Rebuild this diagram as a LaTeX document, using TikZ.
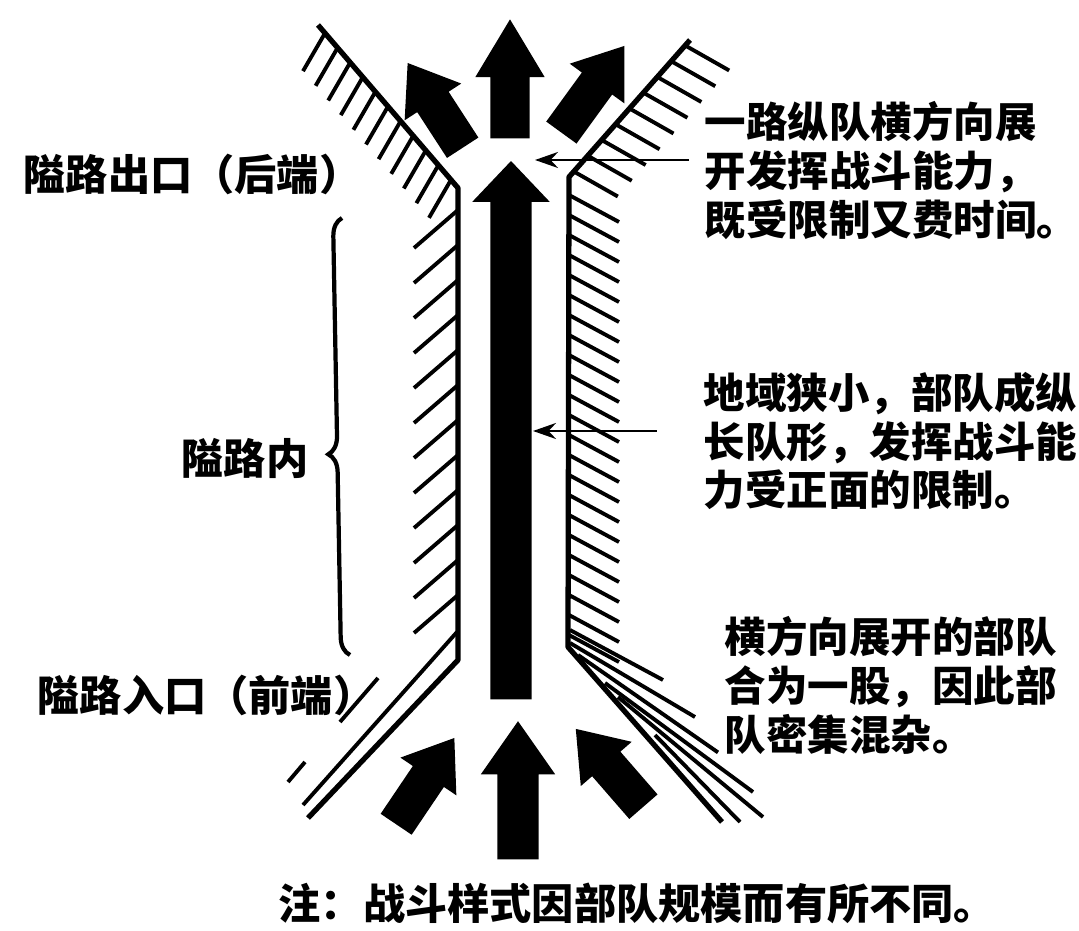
\documentclass[tikz,border=0pt]{standalone}
\usepackage{fontspec}
\newfontfamily\cjk{Noto Sans CJK SC}
\usetikzlibrary{arrows.meta, positioning, calc, decorations.pathreplacing, shapes.arrows}

\begin{document}
\begin{tikzpicture}[
    x=0.01cm, y=-0.01cm,
    >={Stealth[length=2.3mm, width=1.6mm]},
    wall/.style={line width=1.5pt, line join=round},
    hatch/.style={line width=1.1pt},
    ptr/.style={->, line width=0.7pt},
    txt/.style={font=\cjk\bfseries\fontsize{12}{14.2}\selectfont, inner sep=0pt, align=left},
    note/.style={txt, anchor=north west, font=\cjk\bfseries\fontsize{11.8}{13.9}\selectfont},
    fat/.style={single arrow, fill=black, anchor=tip, inner xsep=0pt, inner ysep=0.18cm,
        single arrow head extend=0.15cm, single arrow tip angle=72},
]
    \useasboundingbox (0,0) rectangle (1079,931);

    \coordinate (LT) at (318,25);
    \coordinate (LC) at (458,188);
    \coordinate (LB) at (458,660);
    \coordinate (LE) at (308,818);
    \coordinate (RT) at (690,40);
    \coordinate (RC) at (569,177);
    \coordinate (RB) at (568,647);
    \coordinate (RE) at (722,822);

    \draw[wall] (LT) -- (LC) -- (LB) -- (LE);
    \draw[wall] (RT) -- (RC) -- (RB) -- (RE);

    \foreach \t in {0.05,0.14,...,0.96}
        \draw[hatch] ($(LT)!\t!(LC)$) -- ++(-22,38);
    \foreach \y in {210,245,...,610}
        \draw[hatch] (LC |- 0,\y) -- ++(-44,38);
    \draw[hatch] (457,632) -- (303,805);
    \draw[hatch] (378,678) -- (340,722);
    \draw[hatch] (305,762) -- (288,782);

    \foreach \t in {0.04,0.155,...,0.97}
        \draw[hatch] ($(RT)!\t!(RC)$) -- ++(44,25);
    \foreach \y in {195,215,...,635}
        \draw[hatch] (RC |- 0,\y) -- ++(50,27);
    \draw[hatch] (570,630) -- (663,680);
    \draw[hatch] (570,643) -- (695,717);
    \draw[hatch] (605,683) -- (753,792);
    \draw[hatch] (618,697) -- (763,817);
    \draw[hatch] (655,735) -- (740,822);

    \node[fat, rotate=90, minimum height=5.38cm, inner ysep=0.2cm, single arrow head extend=0.18cm,
        single arrow tip angle=87] (mainArr) at (511,160) {};
    \node[fat, rotate=90, minimum height=1.19cm, inner ysep=0.19cm, single arrow tip angle=62] (outC) at (510,18) {};
    \node[fat, rotate=123, minimum height=1.01cm] (outL) at (407,62) {};
    \node[fat, rotate=54, minimum height=1.07cm] (outR) at (625,45) {};
    \node[fat, rotate=90, minimum height=1.38cm, inner ysep=0.2cm, single arrow head extend=0.165cm,
        single arrow tip angle=70] (inC) at (518,720) {};
    \node[fat, rotate=56, minimum height=1.04cm] (inL) at (455,737) {};
    \node[fat, rotate=131, minimum height=1.03cm] (inR) at (575,728) {};

    \node[txt, anchor=west] (exitL) at (23,174) {隘路出口（后端）};
    \node[txt, anchor=east] (inside) at (309,458) {隘路内};
    \node[txt, anchor=west] (entryL) at (37,695) {隘路入口（前端）};
    \draw[line width=1.2pt, decorate, decoration={brace, amplitude=0.18cm, aspect=0.46}] (350,655) -- (342,218);

    \node[note] (noteA) at (704,101) {一路纵队横方向展\\开发挥战斗能力，\\既受限制又费时间。};
    \node[note, font=\cjk\bfseries\fontsize{11.8}{13.7}\selectfont] (noteB) at (703,372) {地域狭小，部队成纵\\长队形，发挥战斗能\\力受正面的限制。};
    \node[note] (noteC) at (724,616) {横方向展开的部队\\合为一股，因此部\\队密集混杂。};
    \node[txt, anchor=west] (noteD) at (278,903) {注：战斗样式因部队规模而有所不同。};

    \coordinate (hitB) at (533,431);
    \draw[ptr] ([xshift=-0.15cm]noteA.west |- mainArr.tip) -- ([xshift=0.24cm]mainArr.tip);
    \draw[ptr] ([xshift=-0.46cm]noteB.west |- hitB) -- (hitB);
    \draw[hatch] (578,655) -- ([xshift=-0.06cm, yshift=0.03cm]noteC.south west);
\end{tikzpicture}
\end{document}
